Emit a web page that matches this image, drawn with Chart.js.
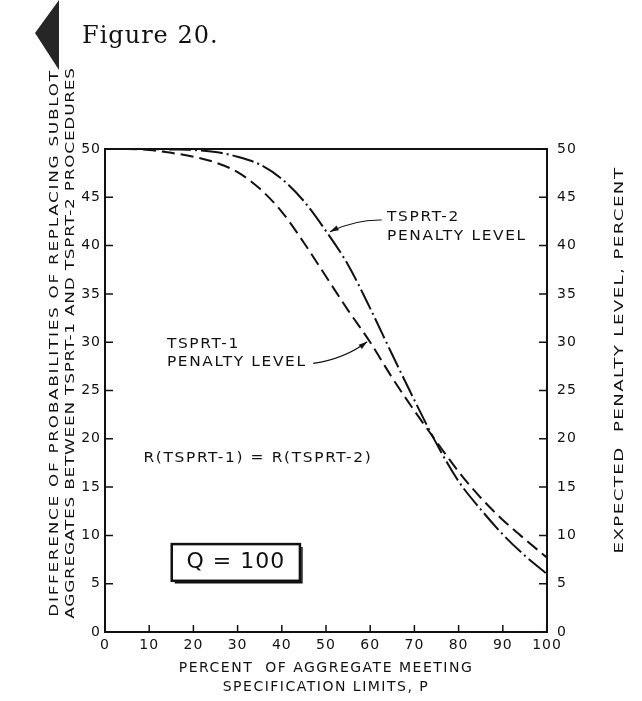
<!DOCTYPE html>
<html>
<head>
<meta charset="utf-8">
<title>Figure 20</title>
<script src="https://cdn.jsdelivr.net/npm/chart.js@4/dist/chart.umd.min.js"></script>
<style>
  html, body { margin: 0; padding: 0; background: #fff; }
  #wrap { width: 642px; height: 701px; }
</style>
</head>
<body>
<div id="wrap"><canvas id="fig20" width="642" height="701"></canvas></div>
<script>
// P, percent of aggregate meeting specification limits
const percentP = [0, 5, 10, 15, 20, 25, 30, 35, 40, 45, 50, 55, 60, 65, 70, 75, 80, 85, 90, 95, 100];
// expected penalty level (percent) for each procedure
const tsprt1Penalty = [50.0, 50.0, 49.9, 49.6, 49.2, 48.6, 47.6, 45.9, 43.5, 40.3, 36.8, 33.3, 30.0, 26.3, 22.9, 19.7, 16.6, 13.9, 11.6, 9.6, 7.7];
const tsprt2Penalty = [50.0, 50.0, 50.0, 49.95, 49.9, 49.7, 49.2, 48.4, 46.9, 44.6, 41.5, 38.0, 33.5, 28.7, 24.0, 19.5, 15.6, 12.7, 10.1, 7.9, 6.0];

const figureTitle = 'Figure 20.';
const leftTitle = ['DIFFERENCE OF PROBABILITIES OF REPLACING SUBLOT', 'AGGREGATES BETWEEN TSPRT-1 AND TSPRT-2 PROCEDURES'];
const rightTitle = 'EXPECTED  PENALTY LEVEL, PERCENT';
const bottomTitle = ['PERCENT  OF AGGREGATE MEETING', 'SPECIFICATION LIMITS, P'];

const ink = '#111';
const sans = "'DejaVu Sans', sans-serif";

Chart.defaults.font.family = sans;
Chart.defaults.font.size = 14;
Chart.defaults.color = ink;

function toPoints(values) {
  return percentP.map((p, i) => ({ x: p, y: values[i] }));
}

// lettering is wide, so text can be stretched along its baseline
function drawLabel(ctx, str, px, py, opt) {
  ctx.save();
  ctx.font = opt.font;
  ctx.letterSpacing = opt.spacing || '0px';
  ctx.textAlign = opt.align || 'left';
  ctx.textBaseline = 'middle';
  ctx.fillStyle = ink;
  ctx.translate(px, py);
  if (opt.rotate) ctx.rotate(opt.rotate);
  if (opt.stretch) ctx.scale(opt.stretch, 1);
  ctx.fillText(str, 0, 0);
  ctx.restore();
}

function arrow(ctx, from, ctrl, to) {
  ctx.beginPath();
  ctx.moveTo(from[0], from[1]);
  ctx.quadraticCurveTo(ctrl[0], ctrl[1], to[0], to[1]);
  ctx.stroke();
  const ang = Math.atan2(to[1] - ctrl[1], to[0] - ctrl[0]);
  ctx.beginPath();
  ctx.moveTo(to[0], to[1]);
  ctx.lineTo(to[0] - 9 * Math.cos(ang - 0.3), to[1] - 9 * Math.sin(ang - 0.3));
  ctx.lineTo(to[0] - 9 * Math.cos(ang + 0.3), to[1] - 9 * Math.sin(ang + 0.3));
  ctx.closePath();
  ctx.fill();
}

// frame, inward ticks, titles and the notes on the plot
const paperDecor = {
  id: 'paperDecor',
  beforeDraw(chart) {
    chart.ctx.letterSpacing = '1px';
  },
  afterDraw(chart) {
    const { ctx, chartArea: a, scales: { x, y, y2 } } = chart;
    const pt = (p, v) => [x.getPixelForValue(p), y.getPixelForValue(v)];

    ctx.save();
    ctx.strokeStyle = ink;
    ctx.fillStyle = ink;
    ctx.lineWidth = 2;
    ctx.strokeRect(a.left, a.top, a.right - a.left, a.bottom - a.top);

    ctx.lineWidth = 1.5;
    ctx.beginPath();
    x.ticks.forEach(t => {
      const px = x.getPixelForValue(t.value);
      ctx.moveTo(px, a.bottom); ctx.lineTo(px, a.bottom - 7);
    });
    y.ticks.forEach(t => {
      const py = y.getPixelForValue(t.value);
      ctx.moveTo(a.left, py); ctx.lineTo(a.left + 8, py);
    });
    y2.ticks.forEach(t => {
      const py = y2.getPixelForValue(t.value);
      ctx.moveTo(a.right, py); ctx.lineTo(a.right - 8, py);
    });
    ctx.stroke();

    // header with the page marker
    ctx.fillStyle = '#262626';
    ctx.beginPath();
    ctx.moveTo(35, 33); ctx.lineTo(59, 0); ctx.lineTo(59, 70); ctx.closePath();
    ctx.fill();
    ctx.fillStyle = ink;
    drawLabel(ctx, figureTitle, 82, 37, { font: "24px 'DejaVu Serif', serif", spacing: '1px' });

    // axis titles
    const titleFont = '13px ' + sans;
    const up = -Math.PI / 2;
    drawLabel(ctx, leftTitle[0], 55, 343, { font: titleFont, spacing: '1.3px', stretch: 1.3, align: 'center', rotate: up });
    drawLabel(ctx, leftTitle[1], 71, 343, { font: titleFont, spacing: '0.6px', stretch: 1.3, align: 'center', rotate: up });
    drawLabel(ctx, rightTitle, 620, 360, { font: titleFont, spacing: '1px', stretch: 1.4, align: 'center', rotate: up });
    const midX = (a.left + a.right) / 2;
    drawLabel(ctx, bottomTitle[0], midX, 668, { font: '14px ' + sans, spacing: '1.5px', align: 'center' });
    drawLabel(ctx, bottomTitle[1], midX, 687, { font: '14px ' + sans, spacing: '1.5px', align: 'center' });

    // curve notes
    const note = { font: '14px ' + sans, spacing: '1.5px', stretch: 1.1 };
    let p = pt(63.8, 42.9);
    drawLabel(ctx, 'TSPRT-2', p[0], p[1], note);
    p = pt(63.8, 41.0);
    drawLabel(ctx, 'PENALTY LEVEL', p[0], p[1], note);
    p = pt(14.0, 29.8);
    drawLabel(ctx, 'TSPRT-1', p[0], p[1], note);
    p = pt(14.0, 27.9);
    drawLabel(ctx, 'PENALTY LEVEL', p[0], p[1], note);
    p = pt(8.7, 18.0);
    drawLabel(ctx, 'R(TSPRT-1) = R(TSPRT-2)', p[0], p[1], note);

    ctx.lineWidth = 1.2;
    arrow(ctx, pt(62.6, 42.65), pt(56.6, 42.7), pt(50.9, 41.44));
    arrow(ctx, pt(47.1, 27.8), pt(54.3, 28.3), pt(59.3, 30.05));

    // Q box
    const b0 = pt(15.1, 9.1), b1 = pt(44.1, 5.3);
    ctx.lineWidth = 2.5;
    ctx.strokeRect(b0[0], b0[1], b1[0] - b0[0], b1[1] - b0[1]);
    ctx.lineWidth = 1.5;
    ctx.beginPath();
    ctx.moveTo(b1[0] + 2, b0[1] + 3); ctx.lineTo(b1[0] + 2, b1[1] + 2); ctx.lineTo(b0[0] + 3, b1[1] + 2);
    ctx.stroke();
    p = pt(29.6, 7.2);
    drawLabel(ctx, 'Q = 100', p[0], p[1], { font: '22px ' + sans, spacing: '1px', align: 'center' });

    ctx.restore();
  }
};

const axisTicks = { stepSize: 5, color: ink, font: { size: 14 } };

new Chart(document.getElementById('fig20'), {
  type: 'line',
  data: {
    datasets: [
      {
        label: 'TSPRT-1',
        data: toPoints(tsprt1Penalty),
        borderColor: ink,
        borderWidth: 2,
        borderDash: [13, 6],
        pointRadius: 0,
        cubicInterpolationMode: 'monotone',
        fill: false
      },
      {
        label: 'TSPRT-2',
        data: toPoints(tsprt2Penalty),
        borderColor: ink,
        borderWidth: 2,
        borderDash: [22, 4, 2, 4],
        pointRadius: 0,
        cubicInterpolationMode: 'monotone',
        fill: false
      }
    ]
  },
  options: {
    responsive: false,
    animation: false,
    devicePixelRatio: 1,
    layout: { padding: { top: 149, left: 0, right: 0, bottom: 0 } },
    plugins: {
      legend: { display: false },
      tooltip: { enabled: false }
    },
    scales: {
      x: {
        type: 'linear',
        min: 0,
        max: 100,
        ticks: { stepSize: 10, color: ink, padding: 5, maxRotation: 0, font: { size: 14 } },
        grid: { display: false, drawTicks: false },
        border: { display: false },
        afterFit: s => { s.height = 69; }
      },
      y: {
        position: 'left',
        min: 0,
        max: 50,
        ticks: { ...axisTicks, padding: 4 },
        grid: { display: false, drawTicks: false },
        border: { display: false },
        afterFit: s => { s.width = 105; }
      },
      y2: {
        position: 'right',
        min: 0,
        max: 50,
        ticks: { ...axisTicks, padding: 10 },
        grid: { display: false, drawTicks: false },
        border: { display: false },
        afterFit: s => { s.width = 95; }
      }
    }
  },
  plugins: [paperDecor]
});
</script>
</body>
</html>
